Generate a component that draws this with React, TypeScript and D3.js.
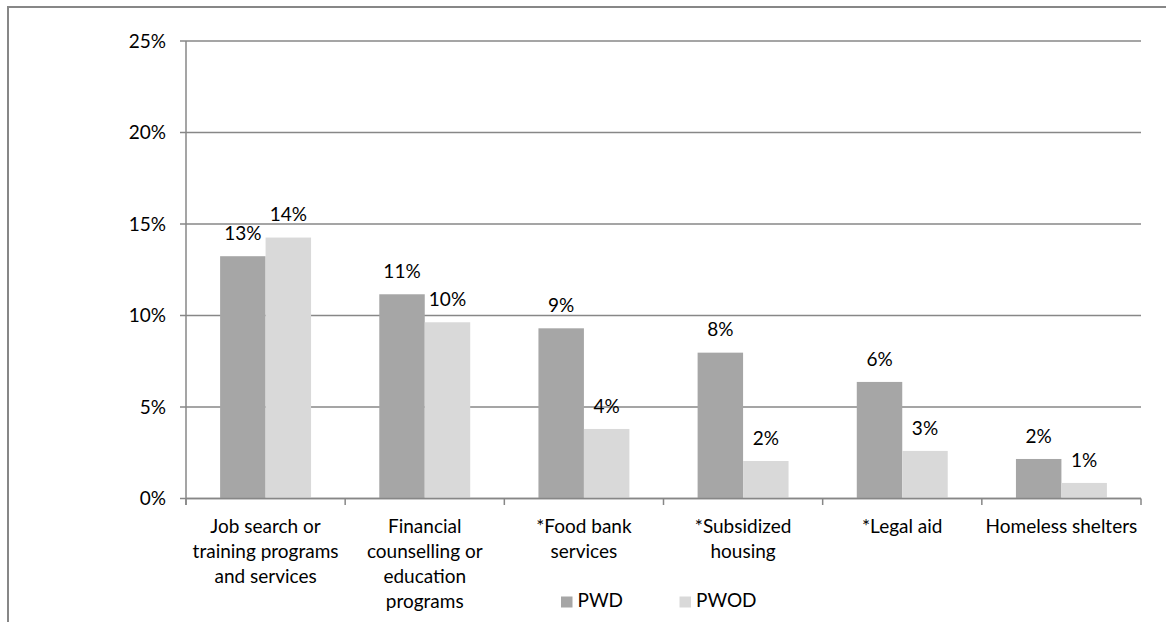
import React from 'react';
import * as d3 from 'd3';

const categories = [
  'Job search or training programs and services',
  'Financial counselling or education programs',
  '*Food bank services',
  '*Subsidized housing',
  '*Legal aid',
  'Homeless shelters',
];
const categoryLines = [
  ['Job search or', 'training programs', 'and services'],
  ['Financial', 'counselling or', 'education', 'programs'],
  ['*Food bank', 'services'],
  ['*Subsidized', 'housing'],
  ['*Legal aid'],
  ['Homeless shelters'],
];
const seriesNames = ['PWD', 'PWOD'];
const pwdValues = [0.1324, 0.1116, 0.093, 0.0797, 0.0637, 0.0216];
const pwodValues = [0.1426, 0.0963, 0.038, 0.0205, 0.026, 0.0085];
const yTicks = [0, 0.05, 0.1, 0.15, 0.2, 0.25];

const W = 1166;
const H = 622;
const FONT = 'Lato, "Open Sans", sans-serif';
const FS = 19;
const GRID = '#878787';
const colors = ['#A6A6A6', '#D9D9D9'];

export default function App() {
  const left = 186;
  const right = 1141;
  const top = 41;
  const bottom = 498.5;

  const x = d3.scaleBand<string>().domain(categories).range([left, right]).padding(0);
  const xs = d3
    .scaleBand<string>()
    .domain(seriesNames)
    .range([0, x.bandwidth()])
    .paddingInner(0)
    .paddingOuter(0.75);
  const y = d3.scaleLinear().domain([0, 0.25]).range([bottom, top]);
  const pct = d3.format('.0%');
  const series = [pwdValues, pwodValues];
  const capHalf = FS * 0.36;

  const boundaries = categories.map((c) => x(c) as number).concat([right]);

  return (
    <svg
      width={W}
      height={H}
      style={{ position: 'absolute', left: 0, top: 0, display: 'block' }}
      fontFamily={FONT}
      fontSize={FS}
    >
      <rect x={0} y={0} width={W} height={H} fill="#fff" />
      {/* outer chart frame */}
      <path d={`M8,${H} L8,7 L${W},7`} fill="none" stroke={GRID} strokeWidth={2} />

      {/* gridlines + y ticks */}
      {yTicks.map((t) => (
        <g key={t}>
          <line x1={left - 6} x2={right} y1={y(t)} y2={y(t)} stroke={GRID} strokeWidth={1.5} />
          <text x={166} y={y(t) + capHalf} textAnchor="end" fill="#000">
            {pct(t)}
          </text>
        </g>
      ))}

      {/* y axis */}
      <line x1={left} x2={left} y1={top} y2={bottom + 6.5} stroke={GRID} strokeWidth={1.5} />
      {/* x axis ticks */}
      {boundaries.map((b, i) => (
        <line key={i} x1={b} x2={b} y1={bottom} y2={bottom + 6.5} stroke={GRID} strokeWidth={1.5} />
      ))}

      {/* bars */}
      {categories.map((c, ci) => (
        <g key={c}>
          {seriesNames.map((s, si) => {
            const v = series[si][ci];
            const bx = (x(c) as number) + (xs(s) as number);
            const by = y(v);
            return (
              <g key={s}>
                <rect x={bx} y={by} width={xs.bandwidth()} height={bottom - by} fill={colors[si]} />
                <text
                  x={bx + xs.bandwidth() / 2}
                  y={by - 23 + capHalf}
                  textAnchor="middle"
                  fill="#000"
                >
                  {pct(v)}
                </text>
              </g>
            );
          })}
        </g>
      ))}

      {/* redraw x axis line over bars */}
      <line x1={left} x2={right} y1={bottom} y2={bottom} stroke={GRID} strokeWidth={1.5} />

      {/* category labels */}
      {categories.map((c, ci) => (
        <text key={c} textAnchor="middle" fill="#000">
          {categoryLines[ci].map((ln, li) => (
            <tspan key={li} x={(x(c) as number) + x.bandwidth() / 2} y={533 + li * 25}>
              {ln}
            </tspan>
          ))}
        </text>
      ))}

      {/* legend */}
      {seriesNames.map((s, si) => {
        const lx = si === 0 ? 561 : 679.5;
        return (
          <g key={s}>
            <rect x={lx} y={596.5} width={11.5} height={11} fill={colors[si]} />
            <text x={lx + 16.5} y={607.3} fill="#000">
              {s}
            </text>
          </g>
        );
      })}
    </svg>
  );
}
